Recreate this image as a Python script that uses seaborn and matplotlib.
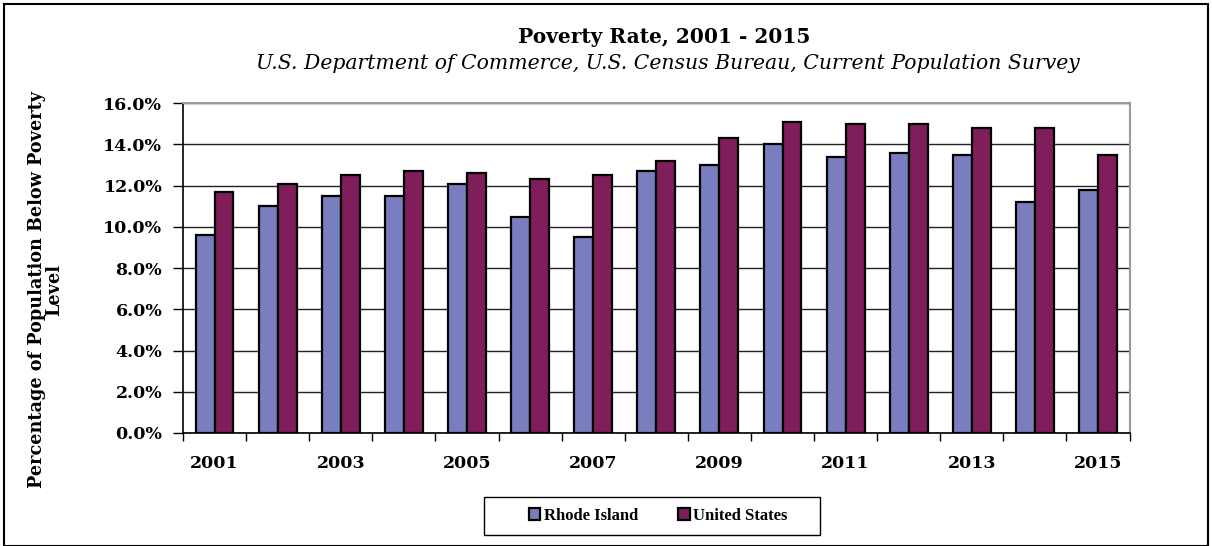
import numpy as np
import pandas as pd
import seaborn as sns
import matplotlib.pyplot as plt
from matplotlib.patches import Rectangle
from matplotlib.ticker import FuncFormatter, FixedLocator

years = [str(y) for y in range(2001, 2016)]
rhode_island = [9.6, 11.0, 11.5, 11.5, 12.1, 10.5, 9.5, 12.7, 13.0, 14.0, 13.4, 13.6, 13.5, 11.2, 11.8]
united_states = [11.7, 12.1, 12.5, 12.7, 12.6, 12.3, 12.5, 13.2, 14.3, 15.1, 15.0, 15.0, 14.8, 14.8, 13.5]
series_names = ["Rhode Island", "United States"]
colors = ["#7A7EBE", "#801E5C"]

df = pd.DataFrame({
    "year": years * 2,
    "rate": rhode_island + united_states,
    "area": [series_names[0]] * len(years) + [series_names[1]] * len(years),
})

sns.set_style("white")
plt.rcParams['font.family'] = ['DejaVu Serif']
plt.rcParams['text.color'] = 'black'
plt.rcParams['xtick.color'] = 'black'
plt.rcParams['ytick.color'] = 'black'

fig = plt.figure(figsize=(12.12, 5.46), dpi=100)
ax = fig.add_axes([0.151, 0.207, 0.781, 0.604])

sns.barplot(data=df, x="year", y="rate", hue="area", palette=colors, width=0.6,
            saturation=1, edgecolor="black", linewidth=1.6, ax=ax, zorder=3)

ax.set_ylim(0, 16)
ax.set_xlim(-0.5, len(years) - 0.5)
ax.set_yticks(np.arange(0, 16.1, 2))
ax.yaxis.set_major_formatter(FuncFormatter(lambda v, p: f"{v:.1f}%"))
ax.yaxis.grid(True, color="#222222", linewidth=1.0, zorder=0)
ax.set_axisbelow(True)

ax.set_xticks(range(len(years)))
ax.set_xticklabels([y if i % 2 == 0 else "" for i, y in enumerate(years)])
ax.xaxis.set_minor_locator(FixedLocator(np.arange(-0.5, len(years), 1)))
ax.tick_params(axis="x", which="major", length=0, pad=16, labelsize=12.5, labelcolor="black")
ax.tick_params(axis="x", which="minor", length=6, width=1, color="black", direction="out", bottom=True)
ax.tick_params(axis="y", length=7, width=1, color="black", direction="out", left=True,
               labelsize=12.5, pad=8, labelcolor="black")
for lab in ax.get_xticklabels() + ax.get_yticklabels():
    lab.set_fontweight("bold")

for s in ["top", "right"]:
    ax.spines[s].set_color("#9a9a9a")
    ax.spines[s].set_linewidth(1.5)
for s in ["left", "bottom"]:
    ax.spines[s].set_color("black")
    ax.spines[s].set_linewidth(1.2)

ax.set_xlabel("")
ax.set_ylabel("")
fig.text(0.0375, 0.469, "Percentage of Population Below Poverty\nLevel", rotation=90,
         ha="center", va="center", fontsize=12.7, fontweight="bold", linespacing=0.95,
         color="black")

fig.text(0.548, 0.932, "Poverty Rate, 2001 - 2015", ha="center", va="center",
         fontsize=14.5, fontweight="bold", color="black")
fig.text(0.551, 0.884, "U.S. Department of Commerce, U.S. Census Bureau, Current Population Survey",
         ha="center", va="center", fontsize=14.7, style="italic", color="black")

handles, labels = ax.get_legend_handles_labels()
ax.get_legend().remove()
leg = fig.legend(handles, labels, loc="center", bbox_to_anchor=(0.543, 0.055), ncol=2,
                 frameon=False, handlelength=0.7, handleheight=0.7, handletextpad=0.2,
                 columnspacing=2.4, prop={"family": "Liberation Serif", "weight": "bold", "size": 12})
for t in leg.get_texts():
    t.set_color("black")
fig.patches.append(Rectangle((484 / 1212, 1 - 535 / 546), 336 / 1212, 38 / 546,
                             transform=fig.transFigure, fill=False, edgecolor="black", linewidth=1.0))

fig.patches.append(Rectangle((0.003, 0.0), 0.994, 0.993, transform=fig.transFigure,
                             fill=False, edgecolor="black", linewidth=1.5))

fig.savefig("out.png", dpi=100)
